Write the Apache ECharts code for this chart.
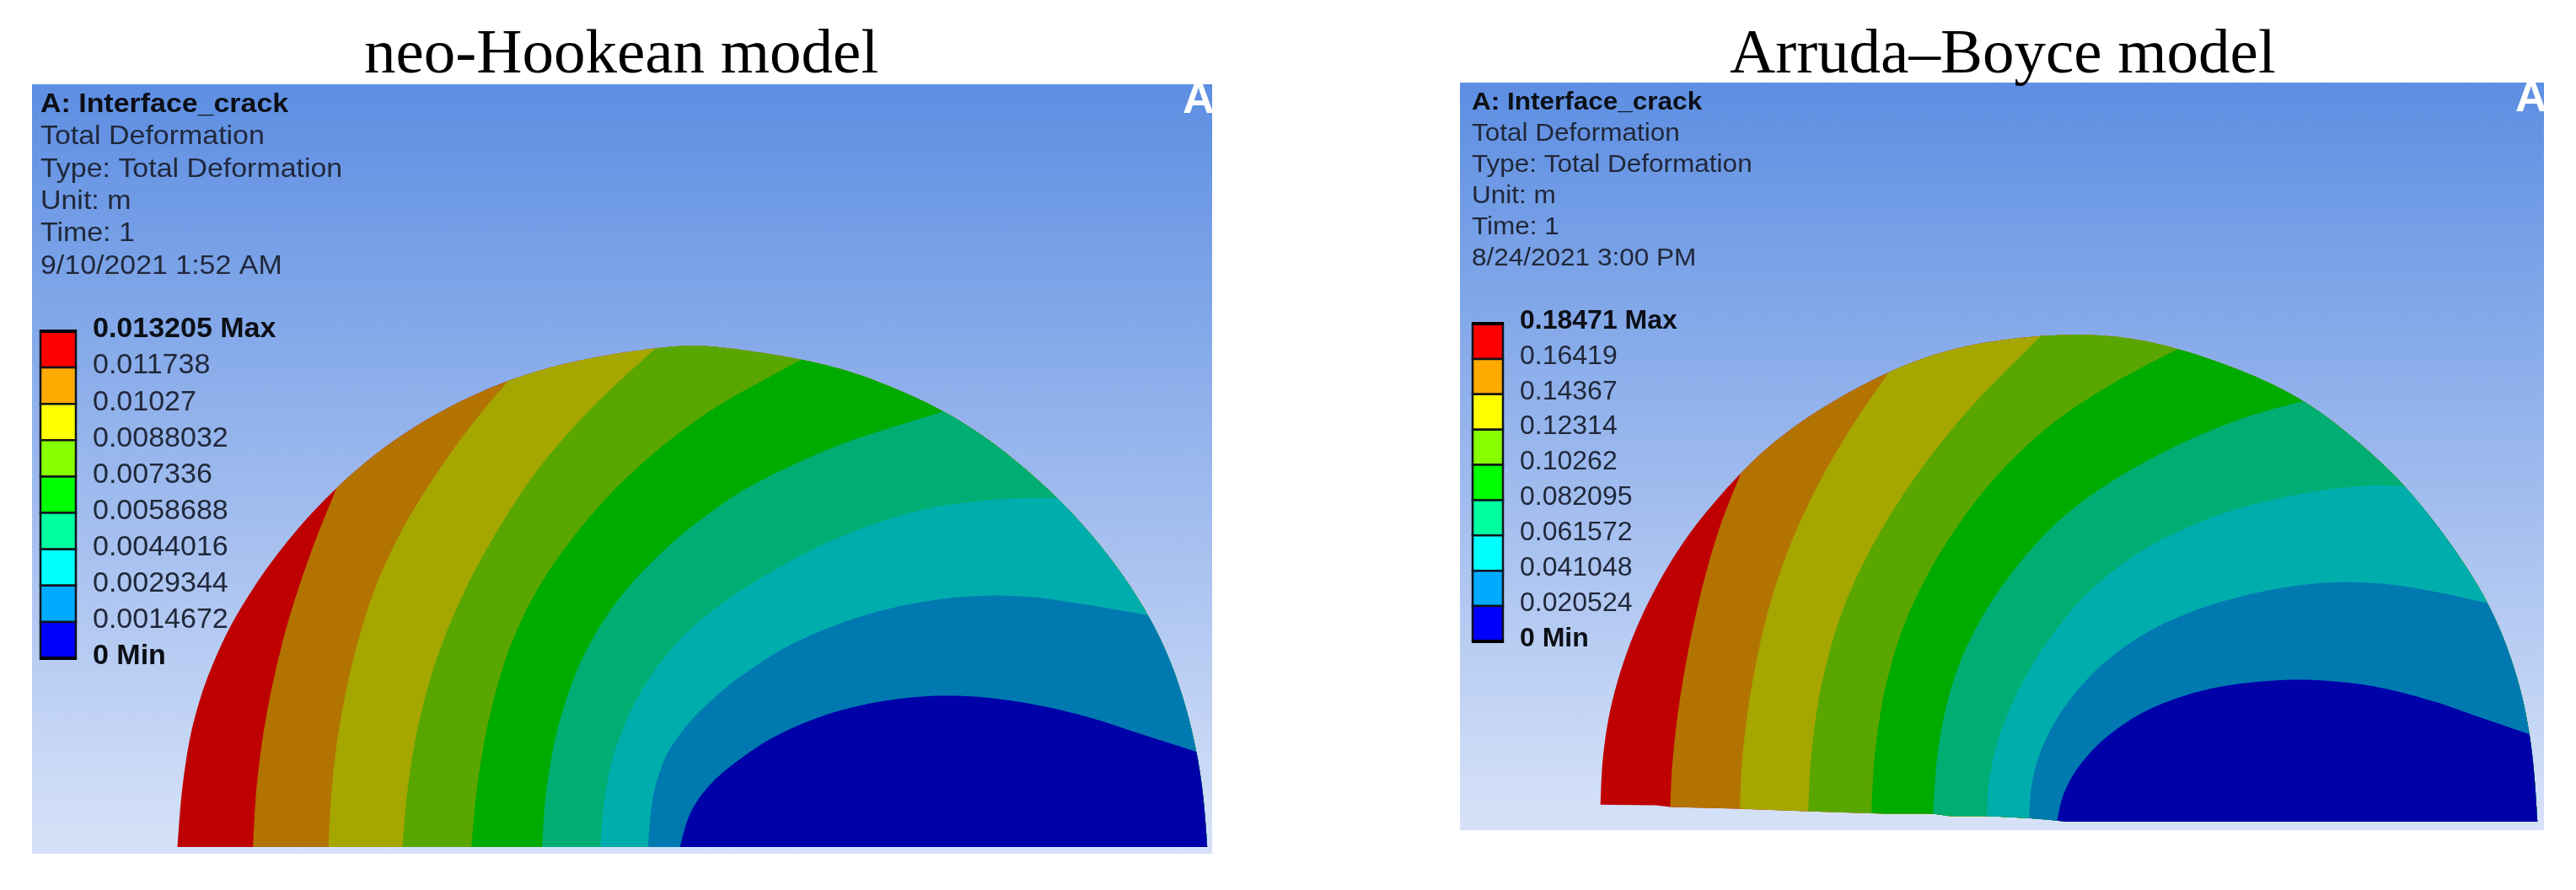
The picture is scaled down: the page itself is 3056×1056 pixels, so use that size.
<!DOCTYPE html>
<html>
<head>
<meta charset="utf-8">
<title>Total deformation</title>
<script src="https://cdn.jsdelivr.net/npm/echarts@6/dist/echarts.min.js"></script>
<style>html,body{margin:0;padding:0;background:#fff}#main{width:3056px;height:1056px}</style>
</head>
<body>
<div id="main"></div>
<script>
// dome + contour lines. units: distance from the left foot of the dome
const domeA = [[0,0],[4,95],[14,200],[29,271],[46,335],[65,394],[88,447],[115,506],[153,576],[199,641],[224,673],[257,711],[299,752],[349,790],[402,824],[458,849],[525,870],[592,881],[620,885],[647,884],[689,877],[768,859],[814,843],[877,808],[936,769],[982,726],[1028,673],[1072,618],[1112,553],[1149,488],[1185,406],[1208,335],[1229,253],[1243,156],[1248,107],[1252,48],[1254,0]];
const baseA = [[0,0],[1254,0]];
const c1A = [[92,0],[94,95],[104,200],[115,288],[134,400],[163,535],[199,641]];
const c2A = [[184,0],[186,95],[196,224],[215,341],[240,471],[274,564],[316,664],[358,746],[402,824]];
const c3A = [[274,0],[278,95],[291,212],[312,330],[349,459],[391,564],[441,676],[504,787],[592,881]];
const c4A = [[358,0],[362,95],[377,224],[400,347],[433,453],[479,541],[529,635],[597,717],[659,782],[710,823],[768,859]];
const c5A = [[444,0],[446,95],[462,218],[488,335],[534,441],[592,529],[646,585],[689,635],[802,717],[936,769]];
const c6A = [[515,0],[519,95],[530,171],[563,289],[609,365],[646,412],[689,459],[802,553],[898,600],[1003,616],[1072,618]];
const c7A = [[573,0],[576,95],[592,165],[621,218],[646,253],[676,294],[751,368],[839,418],[957,447],[1023,446],[1107,429],[1185,406]];
const c8A = [[612,0],[620,60],[642,104],[676,148],[730,203],[793,239],[873,265],[944,270],[1024,262],[1107,230],[1183,200],[1243,156]];

const domeB = [[0,30],[1,104],[9,190],[23,260],[40,335],[62,398],[86,462],[113,520],[141,566],[170,615],[203,661],[243,705],[290,748],[353,797],[408,826],[463,846],[537,859],[607,860],[652,852],[703,835],[754,811],[812,777],[856,745],[899,699],[938,650],[981,595],[1017,525],[1056,450],[1081,387],[1103,317],[1123,231],[1132,150],[1138,86],[1141,0]];
const baseB = [[0,30],[68,29],[85,26],[166,23],[258,18],[347,14],[405,14],[425,10],[471,10],[521,6],[549,3],[568,0],[1141,0]];
const c1B = [[85,26],[86,92],[94,202],[107,306],[125,427],[145,525],[170,615]];
const c2B = [[170,23],[170,92],[180,219],[200,364],[227,485],[266,601],[305,699],[353,797]];
const c3B = [[253,18],[255,115],[266,248],[294,381],[329,491],[384,612],[443,728],[537,859]];
const c4B = [[330,16],[331,104],[345,248],[368,352],[408,468],[463,589],[541,699],[607,762],[703,835]];
const c5B = [[405,14],[408,133],[427,260],[463,364],[502,445],[557,537],[607,589],[703,670],[781,713],[856,745]];
const c6B = [[471,10],[470,63],[482,150],[514,260],[565,364],[604,420],[663,491],[757,551],[860,583],[938,595],[981,595]];
const c7B = [[522,6],[522,75],[541,156],[576,225],[616,294],[683,352],[761,398],[879,427],[938,424],[1017,407],[1081,387]];
const c8B = [[556,2],[561,52],[581,98],[612,150],[663,202],[734,237],[801,248],[865,253],[938,245],[1017,213],[1076,182],[1132,150]];

// legend levels, top to bottom
const levelsA = ['0.013205','0.011738','0.01027','0.0088032','0.007336','0.0058688','0.0044016','0.0029344','0.0014672','0'];
const levelsB = ['0.18471','0.16419','0.14367','0.12314','0.10262','0.082095','0.061572','0.041048','0.020524','0'];

const infoA = ['Total Deformation','Type: Total Deformation','Unit: m','Time: 1','9/10/2021 1:52 AM'];
const infoB = ['Total Deformation','Type: Total Deformation','Unit: m','Time: 1','8/24/2021 3:00 PM'];

const bandColors = ['#be0000','#b37300','#a6a600','#5aa600','#00ab00','#00ae73','#00adad','#0079b0','#0000a8'];
const cellColors = ['#ff0000','#ffaa00','#ffff00','#88ff00','#00ff00','#00ffa0','#00ffff','#00aaff','#0000ff'];

const sansFont = '"Liberation Sans", Arial, sans-serif';
const serifFont = '"Liberation Serif", "Times New Roman", serif';
const textColor = '#20283a';

const SPLINE_STEPS = 8;

// the read points are a bit noisy, even them out before drawing
function relax(p, passes) {
    let cur = p;
    for (let n = 0; n < passes; n++) {
        cur = cur.map((q, i) => {
            if (i === 0 || i === cur.length - 1) return q;
            return [0, 1].map(j => (cur[i - 1][j] + 2 * q[j] + cur[i + 1][j]) / 4);
        });
    }
    return cur;
}

function spline(p) {
    let out = [];
    for (let i = 0; i < p.length - 1; i++) {
        let a = p[Math.max(i - 1, 0)], b = p[i], c = p[i + 1], d = p[Math.min(i + 2, p.length - 1)];
        for (let k = 0; k < SPLINE_STEPS; k++) {
            let t = k / SPLINE_STEPS, t2 = t * t, t3 = t2 * t;
            out.push([0, 1].map(j => 0.5 * (2 * b[j] + (c[j] - a[j]) * t + (2 * a[j] - 5 * b[j] + 4 * c[j] - d[j]) * t2 + (3 * b[j] - a[j] - 3 * c[j] + d[j]) * t3)));
        }
    }
    out.push(p[p.length - 1]);
    return out;
}

// each band covers everything right of its contour, painted one over the other
function regions(dome, base, contours) {
    let soft = relax(dome, 1);
    let outline = spline(soft);
    let list = [outline.concat(base.slice().reverse())];
    contours.forEach(c => {
        let end = c[c.length - 1];
        let idx = dome.findIndex(q => q[0] === end[0] && q[1] === end[1]);
        let line = relax(c, 1);
        line[line.length - 1] = soft[idx];
        let back = base.filter(q => q[0] > c[0][0]).reverse();
        list.push(spline(line).concat(outline.slice(idx * SPLINE_STEPS)).concat(back));
    });
    return list;
}

function domeSeries(gridIndex, list) {
    return {
        type: 'custom',
        xAxisIndex: gridIndex,
        yAxisIndex: gridIndex,
        silent: true,
        z: 2,
        data: list.map((r, i) => [i]),
        renderItem: function (params, api) {
            return {
                type: 'polygon',
                shape: { points: list[params.dataIndex].map(q => api.coord(q)) },
                style: { fill: bandColors[params.dataIndex] }
            };
        }
    };
}

function cellSeries(gridIndex) {
    return {
        type: 'custom',
        xAxisIndex: gridIndex,
        yAxisIndex: gridIndex,
        silent: true,
        z: 5,
        data: cellColors.map((c, i) => [0, 8 - i]),
        renderItem: function (params, api) {
            let i = params.dataIndex;
            let lo = api.coord([0, 8 - i]);
            let hi = api.coord([1, 9 - i]);
            let kids = [{
                type: 'rect',
                shape: { x: lo[0], y: hi[1], width: hi[0] - lo[0], height: lo[1] - hi[1] },
                style: { fill: cellColors[i], stroke: '#10141c', lineWidth: 2.5 }
            }];
            if (i === 0 || i === 8) {
                let yy = i === 0 ? hi[1] : lo[1];
                kids.push({
                    type: 'rect',
                    shape: { x: lo[0] - 1, y: yy - 2, width: hi[0] - lo[0] + 2, height: 4 },
                    style: { fill: '#000' }
                });
            }
            return { type: 'group', children: kids };
        }
    };
}

function labelSeries(gridIndex, levels, fontSize, nudge) {
    return {
        type: 'custom',
        xAxisIndex: gridIndex,
        yAxisIndex: gridIndex,
        silent: true,
        z: 6,
        data: levels.map((v, i) => [1, 9 - i]),
        renderItem: function (params, api) {
            let i = params.dataIndex;
            let edge = i === 0 || i === levels.length - 1;
            let txt = levels[i] + (i === 0 ? ' Max' : i === levels.length - 1 ? ' Min' : '');
            let p = api.coord([1, 9 - i]);
            return {
                type: 'text',
                x: p[0] + 20,
                y: p[1] + nudge,
                style: {
                    text: txt,
                    fontFamily: sansFont,
                    fontSize: fontSize,
                    fontWeight: edge ? 'bold' : 'normal',
                    fill: edge ? '#0c0f16' : textColor,
                    align: 'left',
                    verticalAlign: 'middle'
                }
            };
        }
    };
}

function infoBlock(x, y, step, fontSize, stretch, lines) {
    let out = [{
        type: 'text', x: x, y: y, z: 10, scaleX: stretch,
        style: { text: 'A: Interface_crack', fontFamily: sansFont, fontSize: fontSize, fontWeight: 'bold', fill: '#0c0f16', verticalAlign: 'middle' }
    }];
    lines.forEach((t, i) => out.push({
        type: 'text', x: x, y: y + (i + 1) * step, z: 10, scaleX: stretch,
        style: { text: t, fontFamily: sansFont, fontSize: fontSize, fill: textColor, verticalAlign: 'middle' }
    }));
    return out;
}

const panelFill = {
    type: 'linear', x: 0, y: 0, x2: 0, y2: 1,
    colorStops: [{ offset: 0, color: '#5d8ee2' }, { offset: 1, color: '#d7e2f8' }]
};

function hiddenAxis(gridIndex, min, max) {
    return { type: 'value', gridIndex: gridIndex, min: min, max: max, show: false };
}

var myChart = echarts.init(document.getElementById('main'));

var option = {
    animation: false,
    backgroundColor: '#fff',
    grid: [
        { left: 38, top: 100, width: 1400, height: 913, show: true, backgroundColor: panelFill, borderWidth: 0 },
        { left: 1732, top: 98, width: 1286, height: 887, show: true, backgroundColor: panelFill, borderWidth: 0 },
        { left: 48, top: 393, width: 42, height: 388 },
        { left: 1747, top: 384, width: 36, height: 377 }
    ],
    xAxis: [hiddenAxis(0, -177, 1260), hiddenAxis(1, -171, 1149), hiddenAxis(2, 0, 1), hiddenAxis(3, 0, 1)],
    yAxis: [hiddenAxis(0, -12, 1345), hiddenAxis(1, -15, 1303), hiddenAxis(2, 0, 9), hiddenAxis(3, 0, 9)],
    series: [
        domeSeries(0, regions(domeA, baseA, [c1A, c2A, c3A, c4A, c5A, c6A, c7A, c8A])),
        domeSeries(1, regions(domeB, baseB, [c1B, c2B, c3B, c4B, c5B, c6B, c7B, c8B])),
        cellSeries(2),
        cellSeries(3),
        labelSeries(2, levelsA, 34, -2),
        labelSeries(3, levelsB, 32, -3)
    ],
    graphic: {
        elements: [
            { type: 'text', x: 432, y: 66, z: 10, style: { text: 'neo-Hookean model', fontFamily: serifFont, fontSize: 75, fill: '#000', verticalAlign: 'middle' } },
            { type: 'text', x: 2052, y: 66, z: 10, style: { text: 'Arruda–Boyce model', fontFamily: serifFont, fontSize: 75, fill: '#000', verticalAlign: 'middle' } },
            { type: 'text', x: 1403, y: 120, z: 10, style: { text: 'A', fontFamily: sansFont, fontSize: 52, fontWeight: 'bold', fill: '#fff', verticalAlign: 'middle' } },
            { type: 'text', x: 2984, y: 118, z: 10, style: { text: 'A', fontFamily: sansFont, fontSize: 52, fontWeight: 'bold', fill: '#fff', verticalAlign: 'middle' } }
        ].concat(infoBlock(48, 124, 38.4, 32, 1.06, infoA)).concat(infoBlock(1746, 122, 37, 30, 1.05, infoB))
    }
};
myChart.setOption(option);
</script>
</body>
</html>
